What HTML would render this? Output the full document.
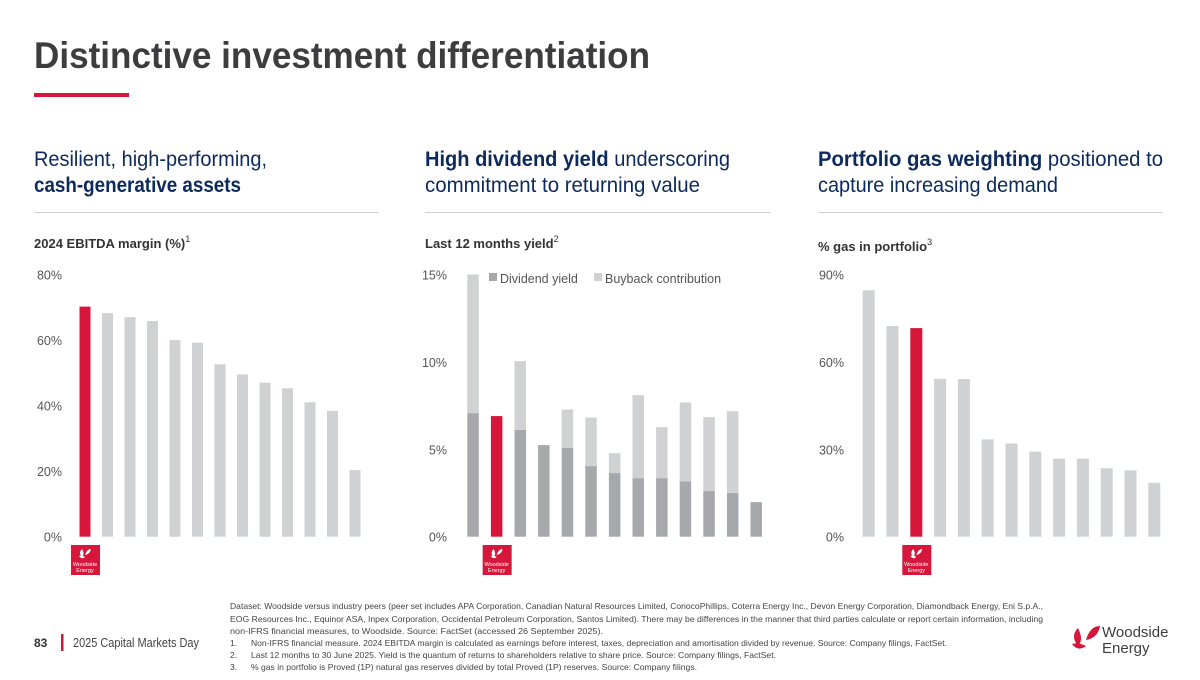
<!DOCTYPE html>
<html><head><meta charset="utf-8"><style>
body{margin:0;width:1200px;height:675px;overflow:hidden;background:#fff;font-family:"Liberation Sans",sans-serif}
</style></head><body>
<svg width="1200" height="675" viewBox="0 0 1200 675" xmlns="http://www.w3.org/2000/svg" font-family="Liberation Sans, sans-serif" id="pg">
<text x="34" y="68" font-size="37" font-weight="bold" fill="#3d3d3f" textLength="616" lengthAdjust="spacingAndGlyphs">Distinctive investment differentiation</text>
<rect x="34" y="93" width="95" height="4" fill="#d6163a"/>
<g font-size="21" fill="#0c2a5b">
<text x="34" y="166" textLength="233" lengthAdjust="spacingAndGlyphs">Resilient, high-performing,</text>
<text x="34" y="192" font-weight="bold" textLength="207" lengthAdjust="spacingAndGlyphs">cash-generative assets</text>
<text x="425" y="166" textLength="305" lengthAdjust="spacingAndGlyphs"><tspan font-weight="bold">High dividend yield</tspan> underscoring</text>
<text x="425" y="192" textLength="275" lengthAdjust="spacingAndGlyphs">commitment to returning value</text>
<text x="818" y="166" textLength="345" lengthAdjust="spacingAndGlyphs"><tspan font-weight="bold">Portfolio gas weighting</tspan> positioned to</text>
<text x="818" y="192" textLength="240" lengthAdjust="spacingAndGlyphs">capture increasing demand</text>
</g>
<g stroke="#d0d0d0" stroke-width="1">
<line x1="34" y1="212.5" x2="378" y2="212.5"/>
<line x1="425" y1="212.5" x2="770" y2="212.5"/>
<line x1="818" y1="212.5" x2="1163" y2="212.5"/>
</g>
<g font-size="13" font-weight="bold" fill="#333">
<text x="34" y="248">2024 EBITDA margin (%)<tspan font-size="9" font-weight="normal" dy="-6">1</tspan></text>
<text x="425" y="248">Last 12 months yield<tspan font-size="9" font-weight="normal" dy="-6">2</tspan></text>
<text x="818" y="251">% gas in portfolio<tspan font-size="9" font-weight="normal" dy="-6">3</tspan></text>
</g>
<g id="c1"></g><g id="c2"></g><g id="c3"></g>
<g font-size="12.5" fill="#555">
<rect x="489" y="273" width="8" height="8" fill="#a6a8ab"/><text x="500" y="283">Dividend yield</text>
<rect x="594" y="273" width="8" height="8" fill="#d0d1d3"/><text x="605" y="283">Buyback contribution</text>
</g>
<g font-size="8.5" fill="#444">
<text x="230" y="609" textLength="813" lengthAdjust="spacingAndGlyphs">Dataset: Woodside versus industry peers (peer set includes APA Corporation, Canadian Natural Resources Limited, ConocoPhillips, Coterra Energy Inc., Devon Energy Corporation, Diamondback Energy, Eni S.p.A.,</text>
<text x="230" y="622" textLength="813" lengthAdjust="spacingAndGlyphs">EOG Resources Inc., Equinor ASA, Inpex Corporation, Occidental Petroleum Corporation, Santos Limited). There may be differences in the manner that third parties calculate or report certain information, including</text>
<text x="230" y="634" textLength="373" lengthAdjust="spacingAndGlyphs">non-IFRS financial measures, to Woodside. Source: FactSet (accessed 26 September 2025).</text>
<text x="230" y="646">1.</text><text x="251" y="646" textLength="696" lengthAdjust="spacingAndGlyphs">Non-IFRS financial measure. 2024 EBITDA margin is calculated as earnings before interest, taxes, depreciation and amortisation divided by revenue. Source: Company filings, FactSet.</text>
<text x="230" y="658">2.</text><text x="251" y="658" textLength="525" lengthAdjust="spacingAndGlyphs">Last 12 months to 30 June 2025. Yield is the quantum of returns to shareholders relative to share price. Source: Company filings, FactSet.</text>
<text x="230" y="670">3.</text><text x="251" y="670" textLength="446" lengthAdjust="spacingAndGlyphs">% gas in portfolio is Proved (1P) natural gas reserves divided by total Proved (1P) reserves. Source: Company filings.</text>
</g>
<text x="34" y="647" font-size="12" font-weight="bold" fill="#333">83</text>
<rect x="61" y="634" width="2.5" height="17" fill="#d6163a"/>
<text x="73" y="647" font-size="12.5" fill="#444" textLength="126" lengthAdjust="spacingAndGlyphs">2025 Capital Markets Day</text>
<g>
<path d="M1078 628 q-8 8 0 18 q6-6 0-18z M1086 640 q4-14 14-14 q-2 12-14 14z M1072 644 q6 8 14 2 q-8-4-14-2z" fill="#d6163a"/>
<text x="1102" y="637" font-size="15" fill="#3d3d3f">Woodside</text>
<text x="1102" y="653" font-size="15" fill="#3d3d3f">Energy</text>
</g>
</svg>
<script>
const c1Cats=["Woodside","P1","P2","P3","P4","P5","P6","P7","P8","P9","P10","P11","P12"];
const c1Vals=[70.2,68.2,67,65.8,60,59.2,52.6,49.5,47,45.3,41,38.4,20.3];
const c1Ticks=[0,20,40,60,80];
const c1Hi=0;
const c2Cats=["P1","Woodside","P2","P3","P4","P5","P6","P7","P8","P9","P10","P11","P12"];
const c2Div=[7.07,6.9,6.11,5.24,5.09,4.04,3.64,3.35,3.35,3.17,2.61,2.51,1.98];
const c2Buy=[7.93,0,3.93,0,2.19,2.78,1.14,4.75,2.92,4.51,4.23,4.67,0];
const c2Ticks=[0,5,10,15];
const c2Hi=1;
const c3Cats=["P1","P2","Woodside","P3","P4","P5","P6","P7","P8","P9","P10","P11","P12"];
const c3Vals=[84.6,72.3,71.6,54.2,54.1,33.4,32,29.2,26.8,26.8,23.5,22.8,18.5];
const c3Ticks=[0,30,60,90];
const c3Hi=2;
const NS="http://www.w3.org/2000/svg";
function mk(p,t,a){const e=document.createElementNS(NS,t);for(const k in a)e.setAttribute(k,a[k]);p.appendChild(e);return e;}
function logo(g,x){const r=mk(g,'rect',{x:x-14,y:545,width:29,height:30,fill:'#d6163a'});


mk(g,'path',{d:`M${x-3} 549 q-4 4 0 8 q3-3 0-8z M${x} 555 q2-6 6-6 q-1 5-6 6z M${x-6} 556 q3 4 6 1 q-3-2-6-1z`,fill:'#fff'});
const t1=mk(g,'text',{x:x,y:566,'font-size':5.5,fill:'#fff','text-anchor':'middle'});t1.textContent='Woodside';
const t2=mk(g,'text',{x:x,y:572,'font-size':5.5,fill:'#fff','text-anchor':'middle'});t2.textContent='Energy';}
function chart(id,cats,s1,s2,ticks,max,x0,pitch,w,hi,axX,c1,c2){
const g=document.getElementById(id);const base=536.7,top=274.5;
const y=v=>base-(v/max)*(base-top);
ticks.forEach(t=>{const e=mk(g,'text',{x:axX,y:y(t)+5,'font-size':12.5,fill:'#555','text-anchor':'end'});e.textContent=t+'%';

});
cats.forEach((c,i)=>{const x=x0+i*pitch;
const r=mk(g,'rect',{x:x,y:y(s1[i]),width:w,height:base-y(s1[i]),fill:i===hi?'#d6163a':c1});


if(s2&&s2[i]>0){const r2=mk(g,'rect',{x:x,y:y(s1[i]+s2[i]),width:w,height:y(s1[i])-y(s1[i]+s2[i]),fill:c2});

}
if(i===hi)logo(g,x+w/2);});}
chart('c1',c1Cats,c1Vals,null,c1Ticks,80,79.5,22.5,11,c1Hi,62,'#d0d1d3');
chart('c2',c2Cats,c2Div,c2Buy,c2Ticks,15,467.3,23.6,11.5,c2Hi,447,'#a6a8ab','#d0d1d3');
chart('c3',c3Cats,c3Vals,null,c3Ticks,90,862.7,23.8,12,c3Hi,844,'#d0d1d3');
</script>
</body></html>
